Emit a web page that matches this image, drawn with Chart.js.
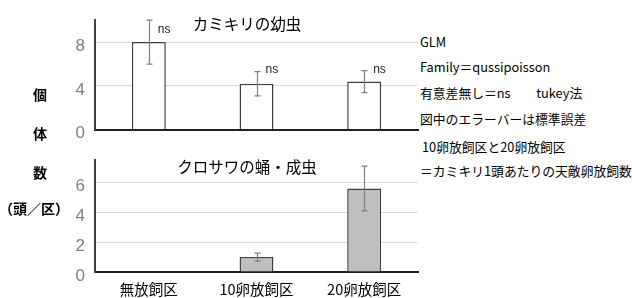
<!DOCTYPE html>
<html>
<head>
<meta charset="utf-8">
<script src="https://cdn.jsdelivr.net/npm/chart.js@4"></script>
<style>
  body { margin: 0; background: #fff; width: 632px; height: 298px; position: relative; overflow: hidden;
         font-family: "Noto Sans CJK JP", "Liberation Sans", sans-serif; color: #000; }
  .box { position: absolute; }
  .lab { position: absolute; font-size: 14px; font-weight: bold; white-space: nowrap; }
  .note { position: absolute; left: 420px; font-size: 12.8px; white-space: nowrap; line-height: 1; }
</style>
</head>
<body>
<div class="box" style="left:0;top:0;width:420px;height:150px"><canvas id="top"></canvas></div>
<div class="box" style="left:0;top:140px;width:420px;height:158px"><canvas id="bottom"></canvas></div>

<div class="lab" style="left:33px;top:84px">個</div>
<div class="lab" style="left:33px;top:123px">体</div>
<div class="lab" style="left:33px;top:162px">数</div>
<div class="lab" style="left:-1px;top:198px">（頭／区）</div>

<div class="note" style="top:36px">GLM</div>
<div class="note" style="top:61px">Family＝qussipoisson</div>
<div class="note" style="top:87px">有意差無し＝ns　　tukey法</div>
<div class="note" style="top:113px">図中のエラーバーは標準誤差</div>
<div class="note" style="top:141px;left:422px">10卵放飼区と20卵放飼区</div>
<div class="note" style="top:165px">＝カミキリ1頭あたりの天敵卵放飼数</div>

<script>
const plots = ['無放飼区', '10卵放飼区', '20卵放飼区'];

const larvaeMean = [8.0, 4.2, 4.4];
const larvaeSE = [2.0, 1.1, 1.0];
const larvaeSig = ['ns', 'ns', 'ns'];
const larvaeSigAt = [9.1, 5.5, 5.5];
const larvaeTicks = [0, 4, 8];

const enemyMean = [0, 1.0, 5.6];
const enemySE = [0, 0.27, 1.5];
const enemyTicks = [0, 2, 4, 6];

const errorBars = {
  id: 'errorBars',
  afterDatasetsDraw(chart, args, opts) {
    const { ctx, scales: { y } } = chart;
    const meta = chart.getDatasetMeta(0);
    ctx.save();
    ctx.strokeStyle = '#808080';
    ctx.lineWidth = 1.2;
    meta.data.forEach((bar, i) => {
      const se = opts.se[i];
      if (!se) return;
      const m = opts.mean[i];
      const x = Math.round(bar.x) + 0.5;
      const yt = y.getPixelForValue(m + se);
      const yb = y.getPixelForValue(m - se);
      ctx.beginPath();
      ctx.moveTo(x, yt); ctx.lineTo(x, yb);
      ctx.moveTo(x - 3, yt); ctx.lineTo(x + 3, yt);
      ctx.moveTo(x - 3, yb); ctx.lineTo(x + 3, yb);
      ctx.stroke();
    });
    ctx.fillStyle = '#222';
    ctx.font = '12px "Liberation Sans", Arial, sans-serif';
    ctx.textBaseline = 'middle';
    (opts.sig || []).forEach((s, i) => {
      const bar = meta.data[i];
      ctx.fillText(s, bar.x + 9, y.getPixelForValue(opts.sigAt[i]));
    });
    ctx.fillStyle = '#000';
    ctx.font = '15.5px "Noto Sans CJK JP", sans-serif';
    ctx.textAlign = 'center';
    ctx.fillText(opts.title, opts.titleX, opts.titleY);
    ctx.restore();
  }
};

function makeChart(id, mean, fill, ticks, max, pad, showX, eb) {
  return new Chart(document.getElementById(id), {
    type: 'bar',
    data: {
      labels: plots,
      datasets: [{
        data: mean,
        backgroundColor: fill,
        borderColor: '#404040',
        borderWidth: 1.5,
        categoryPercentage: 1,
        barPercentage: 0.315
      }]
    },
    options: {
      responsive: true,
      maintainAspectRatio: false,
      animation: false,
      layout: { padding: pad },
      plugins: { legend: { display: false }, tooltip: { enabled: false }, errorBars: eb },
      scales: {
        x: {
          grid: { display: false, drawTicks: false },
          border: { color: '#202020', width: 2 },
          ticks: {
            display: showX,
            padding: 9,
            color: '#000',
            font: { size: 14.5, family: '"Noto Sans CJK JP", sans-serif' }
          },
          afterFit: s => { s.height = showX ? 26 : 0; }
        },
        y: {
          min: 0,
          max: max,
          afterBuildTicks: s => { s.ticks = ticks.map(v => ({ value: v })); },
          grid: {
            color: '#d9d9d9',
            drawTicks: false
          },
          border: { color: '#404040', width: 2 },
          ticks: {
            padding: 10,
            labelOffset: 4,
            color: '#808080',
            font: { size: 17, family: '"Liberation Sans", Arial, sans-serif' }
          },
          afterFit: s => { s.width = 95; }
        }
      }
    },
    plugins: [errorBars]
  });
}

makeChart('top', larvaeMean, '#ffffff', larvaeTicks, 10,
  { top: 15, right: 2, bottom: 13, left: 0 }, false,
  { mean: larvaeMean, se: larvaeSE, sig: larvaeSig, sigAt: larvaeSigAt,
    title: 'カミキリの幼虫', titleX: 247, titleY: 24 });

makeChart('bottom', enemyMean, '#bfbfbf', enemyTicks, 7.5,
  { top: 18, right: 2, bottom: 0, left: 0 }, true,
  { mean: enemyMean, se: enemySE, title: 'クロサワの蛹・成虫', titleX: 247, titleY: 27 });
</script>
</body>
</html>
